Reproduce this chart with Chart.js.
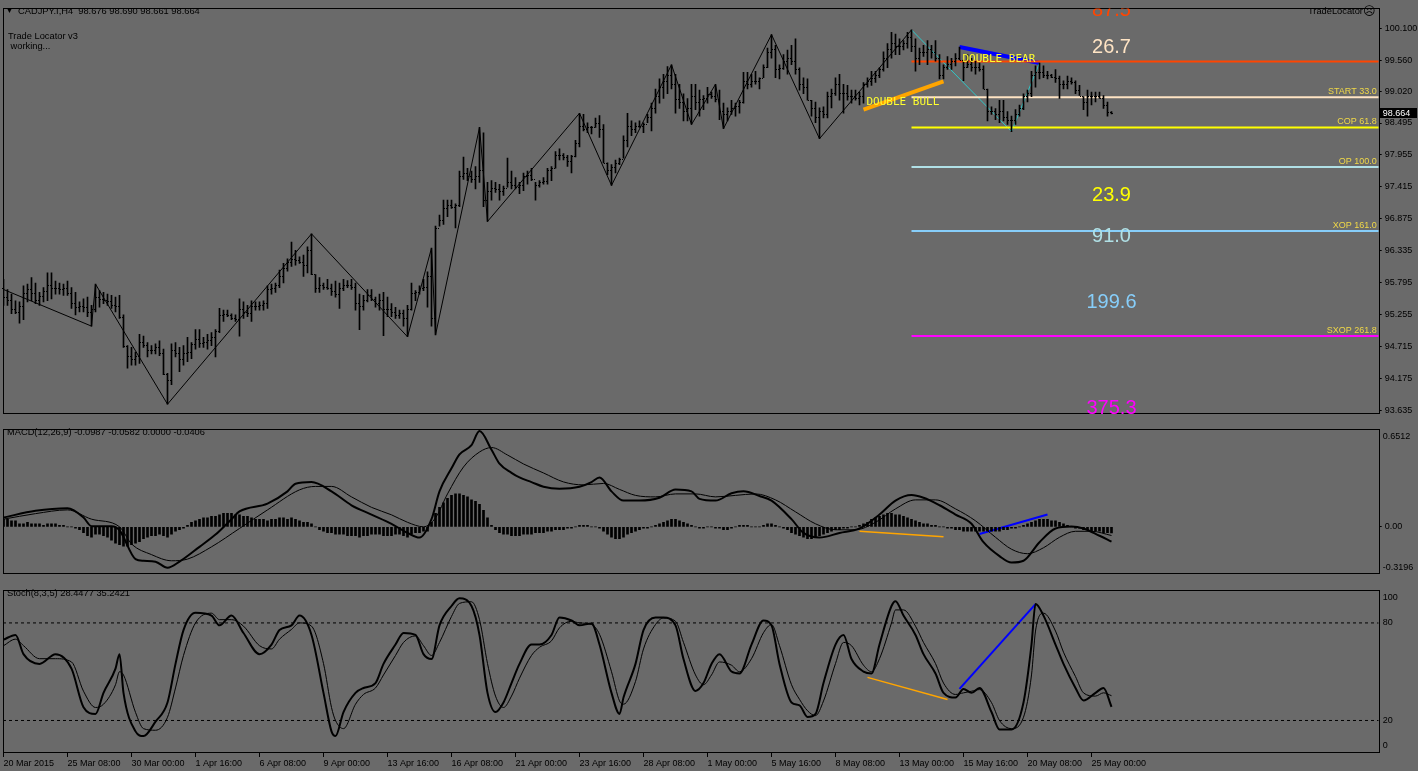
<!DOCTYPE html>
<html>
<head>
<meta charset="utf-8">
<script src="https://cdn.jsdelivr.net/npm/chart.js@4.4.0/dist/chart.umd.min.js"></script>
<style>
    body { margin: 0; background: #6a6a6a; width: 1418px; height: 771px; overflow: hidden; position: relative; font-family: "Liberation Sans", Arial, sans-serif; }
    canvas { position: absolute; left: 0; }
    .txt { position: absolute; font-size: 9.3px; line-height: 11px; color: #000; white-space: pre; }
    .face { font-family: "DejaVu Sans", sans-serif; font-size: 12px; vertical-align: -1px; }
</style>
</head>
<body>
<canvas id="priceChart" width="1418" height="423" style="top:0"></canvas>
<canvas id="macdChart" width="1418" height="162" style="top:421px"></canvas>
<canvas id="stochChart" width="1418" height="190" style="top:581px"></canvas>

<div class="txt" style="left:6px;top:5px;font-size:7px">▼</div>
<div class="txt" style="left:18px;top:5.5px">CADJPY.I,H4  98.676 98.690 98.661 98.664</div>
<div class="txt" style="left:8px;top:30.5px">Trade Locator v3</div>
<div class="txt" style="left:8px;top:40.5px"> working...</div>
<div class="txt" style="left:1308px;top:6px">TradeLocator<span class="face">☹</span></div>
<div class="txt" style="left:7px;top:427px">MACD(12,26,9) -0.0987 -0.0582 0.0000 -0.0406</div>
<div class="txt" style="left:7px;top:588px">Stoch(8,3,5) 28.4477 35.2421</div>

<script>
// --- Datos ---
const timeLabels = ['20 Mar 2015', '25 Mar 08:00', '30 Mar 00:00', '1 Apr 16:00', '6 Apr 08:00', '9 Apr 00:00',
    '13 Apr 16:00', '16 Apr 08:00', '21 Apr 00:00', '23 Apr 16:00', '28 Apr 08:00', '1 May 00:00',
    '5 May 16:00', '8 May 08:00', '13 May 00:00', '15 May 16:00', '20 May 08:00', '25 May 00:00'];
const barsPerLabel = 16;
const priceTicks = [93.635, 94.175, 94.715, 95.255, 95.795, 96.335, 96.875, 97.415, 97.955, 98.495, 99.020, 99.560, 100.100];

const firstOpen = 95.70;
const barHigh = [
    95.85,95.68,95.60,95.49,95.47,95.74,95.77,95.88,95.79,95.63, 95.71,95.96,95.96,95.82,95.79,95.77,95.82,95.71,95.63,95.47,
    95.52,95.55,95.41,95.77,95.66,95.63,95.60,95.58,95.55,95.58, 95.25,94.73,94.70,94.62,94.92,94.89,94.78,94.73,94.76,94.81,
    94.67,94.26,94.76,94.78,94.70,94.73,94.87,94.78,95.00,95.00, 94.87,94.92,94.95,95.00,95.36,95.33,95.33,95.27,95.25,95.52,
    95.47,95.41,95.49,95.47,95.47,95.49,95.74,95.77,95.79,96.01, 96.12,96.20,96.48,96.34,96.23,96.26,96.40,96.62,95.93,95.88,
    95.79,95.85,95.77,95.82,95.79,95.85,95.83,95.85,95.79,95.60, 95.58,95.68,95.68,95.55,95.60,95.63,95.55,95.44,95.38,95.33,
    95.33,95.41,95.79,95.66,95.74,95.85,95.98,96.38,96.75,96.94, 97.19,97.19,97.19,97.13,97.68,97.92,97.73,97.68,97.76,98.42,
    98.33,97.49,97.52,97.49,97.46,97.43,97.90,97.68,97.57,97.49, 97.65,97.68,97.73,97.49,97.52,97.57,97.73,97.76,98.01,98.06,
    97.98,97.95,97.95,98.20,98.66,98.64,98.50,98.44,98.58,98.62, 98.47,97.82,97.79,97.87,97.90,98.28,98.66,98.53,98.50,98.53,
    98.50,98.64,98.83,99.07,99.24,99.32,99.45,99.48,99.32,99.15, 98.99,98.91,99.15,99.15,99.05,98.96,99.10,99.02,99.15,99.05,
    98.83,98.75,98.88,98.83,98.88,99.35,99.35,99.32,99.37,99.26, 99.48,99.76,99.99,99.81,99.48,99.65,99.73,99.81,99.92,99.43,
    99.26,99.24,98.88,98.85,98.75,98.77,99.02,99.07,99.26,99.32, 99.15,99.13,99.05,99.05,99.02,99.18,99.26,99.37,99.37,99.43,
    99.70,99.84,100.03,100.00,99.92,99.89,100.03,100.07,99.92,99.76, 99.81,99.89,99.81,99.89,99.65,99.48,99.62,99.59,99.67,99.78,
    99.56,99.65,99.59,99.54,99.51,99.46,99.07,98.77,98.74,98.88, 98.88,98.69,98.61,98.72,98.80,98.99,99.05,99.37,99.46,99.51,
    99.46,99.37,99.32,99.40,99.29,99.21,99.29,99.26,99.21,99.13, 98.94,99.05,99.02,99.02,99.02,98.96,98.85,98.69
];
const barLow = [
    95.41,95.41,95.27,95.27,95.11,95.17,95.47,95.49,95.44,95.41, 95.47,95.49,95.52,95.60,95.60,95.58,95.58,95.36,95.25,95.30,
    95.30,95.22,95.06,95.30,95.38,95.44,95.41,95.36,95.30,95.19, 94.70,94.35,94.40,94.40,94.43,94.70,94.54,94.59,94.59,94.56,
    94.24,93.74,94.07,94.54,94.29,94.40,94.46,94.51,94.67,94.70, 94.70,94.67,94.73,94.54,94.95,95.14,95.22,95.17,95.14,94.89,
    95.19,95.22,95.14,95.33,95.33,95.33,95.36,95.60,95.63,95.71, 95.79,95.99,96.07,96.09,96.12,95.90,95.96,95.93,95.63,95.63,
    95.68,95.68,95.58,95.55,95.36,95.66,95.71,95.68,95.33,95.00, 95.33,95.47,95.49,95.38,95.33,94.90,95.22,95.22,95.19,95.19,
    95.06,94.88,95.33,95.49,95.60,95.66,95.38,95.06,94.91,96.75, 96.78,96.91,97.05,96.72,97.08,97.54,97.52,97.49,97.38,97.49,
    97.08,96.83,97.19,97.32,97.19,97.27,97.41,97.38,97.38,97.30, 97.35,97.46,97.52,97.19,97.41,97.46,97.46,97.52,97.73,97.87,
    97.87,97.76,97.65,97.92,98.09,98.36,98.33,98.31,98.42,98.25, 97.82,97.62,97.44,97.65,97.79,97.90,98.09,98.28,98.33,98.42,
    98.33,98.50,98.36,98.66,98.83,98.91,98.99,99.07,98.66,98.74, 98.53,98.53,98.47,98.72,98.61,98.72,98.83,98.91,98.85,98.55,
    98.40,98.53,98.64,98.61,98.66,98.83,99.07,99.10,99.15,99.07, 99.26,99.43,99.59,99.26,99.24,99.40,99.32,99.48,99.32,99.05,
    98.99,98.88,98.61,98.50,98.23,98.58,98.58,98.75,98.96,98.88, 98.66,98.88,98.83,98.88,98.80,98.83,99.10,99.13,99.18,99.26,
    99.37,99.43,99.59,99.65,99.65,99.73,99.76,99.70,99.37,99.48, 99.62,99.48,99.59,99.54,99.24,99.24,99.40,99.40,99.46,99.56,
    99.21,99.43,99.37,99.32,99.37,99.07,98.53,98.64,98.55,98.50, 98.53,98.47,98.35,98.47,98.61,98.72,98.85,98.94,99.10,99.24,
    99.26,99.24,99.26,99.18,98.91,99.07,99.07,99.15,98.99,98.96, 98.72,98.61,98.80,98.85,98.91,98.74,98.61,98.65
];
const barClose = [
    95.55,95.50,95.35,95.30,95.40,95.62,95.68,95.62,95.50,95.57, 95.65,95.75,95.70,95.70,95.68,95.70,95.62,95.45,95.38,95.40,
    95.38,95.30,95.35,95.55,95.52,95.50,95.48,95.42,95.40,95.22, 94.72,94.55,94.50,94.55,94.80,94.74,94.66,94.66,94.70,94.60,
    94.25,94.15,94.65,94.60,94.50,94.60,94.62,94.75,94.85,94.78, 94.80,94.82,94.88,94.98,95.25,95.27,95.24,95.20,95.18,95.35,
    95.30,95.28,95.40,95.40,95.42,95.45,95.68,95.70,95.75,95.90, 96.05,96.15,96.20,96.18,96.15,96.10,96.35,95.95,95.70,95.75,
    95.72,95.70,95.65,95.60,95.70,95.75,95.76,95.72,95.45,95.40, 95.50,95.58,95.52,95.45,95.50,95.35,95.35,95.30,95.25,95.28,
    95.20,95.35,95.62,95.64,95.70,95.72,95.90,95.20,96.72,96.85, 97.05,97.10,97.08,97.10,97.60,97.65,97.60,97.55,97.60,97.70,
    97.20,97.35,97.40,97.38,97.35,97.40,97.50,97.45,97.42,97.45, 97.60,97.62,97.55,97.45,97.50,97.52,97.70,97.74,97.95,97.95,
    97.92,97.85,97.93,98.15,98.45,98.40,98.42,98.42,98.50,98.40, 97.82,97.70,97.75,97.82,97.88,98.20,98.45,98.40,98.45,98.45,
    98.48,98.60,98.75,98.95,99.10,99.20,99.30,99.15,98.90,98.85, 98.70,98.75,98.95,98.85,98.90,98.92,98.98,98.95,98.90,98.70,
    98.65,98.70,98.75,98.78,98.85,99.20,99.15,99.20,99.20,99.25, 99.45,99.70,99.75,99.40,99.42,99.55,99.60,99.55,99.40,99.15,
    99.10,98.88,98.75,98.60,98.70,98.65,98.95,99.00,99.15,99.00, 99.00,98.95,98.95,98.92,98.95,99.15,99.20,99.25,99.30,99.40,
    99.60,99.75,99.85,99.80,99.80,99.85,99.95,99.80,99.60,99.70, 99.70,99.75,99.70,99.60,99.30,99.45,99.50,99.55,99.60,99.56,
    99.45,99.50,99.45,99.45,99.40,99.07,98.70,98.70,98.65,98.70, 98.60,98.55,98.55,98.65,98.75,98.95,99.00,99.30,99.35,99.35,
    99.30,99.30,99.28,99.25,99.15,99.15,99.20,99.18,99.05,98.96, 98.85,98.95,98.95,98.95,98.92,98.80,98.68,98.664
];

// ZigZag y patrones
const zigzagIdx = [0, 22, 23, 41, 77, 101, 107, 108, 119, 121, 144, 152, 167, 172, 178, 180, 192, 204, 227];
const zigzagPrice = [95.68, 95.06, 95.77, 93.74, 96.62, 94.88, 96.38, 94.91, 98.42, 96.83, 98.66, 97.44, 99.48, 98.47, 99.15, 98.40, 99.99, 98.23, 100.07];
const waveIdx = [227, 252, 259];
const wavePrice = [100.07, 98.35, 99.51];
const bullIdx = [215, 235];
const bullPrice = [98.72, 99.20];
const bearIdx = [239, 259];
const bearPrice = [99.78, 99.51];

// Niveles Fibonacci
const fibStart = 227;
const fibLevels = [99.536, 98.930, 98.421, 97.749, 96.667, 94.892];
const fibNames = ['', 'START 33.0', 'COP 61.8', 'OP 100.0', 'XOP 161.0', 'SXOP 261.8'];
const fibColors = ['#ff4500', '#ffe4c4', '#ffff00', '#b0e0e6', '#87cefa', '#ff00ff'];
const targetTexts = ['87.5', '26.7', '23.9', '91.0', '199.6', '375.3'];
const targetPrices = [100.39, 99.78, 97.27, 96.57, 95.46, 93.66];
const targetColors = ['#ff4500', '#ffe4c4', '#ffff00', '#b0e0e6', '#87cefa', '#ff00ff'];

// MACD
const macdMax = 0.6512, macdMin = -0.3196;
const macdHist = [
    0.05,0.05,0.04,0.04, 0.02,0.02,0.03,0.02,0.02,0.02,0.01,0.02,0.02,0.02,0.01,0.01,
    0.00,0.00,-0.01,-0.02, -0.04,-0.06,-0.07,-0.05,-0.05,-0.06,-0.07,
    -0.09,-0.11,-0.12,-0.13,-0.13,-0.12,-0.11,-0.10, -0.08,-0.07,-0.06,-0.06,-0.05,-0.06,-0.07,-0.05,
    -0.03,-0.02,-0.01, 0.01,0.03,0.04,0.05,0.06,0.06,0.07,0.07,0.08,0.09,0.09,0.09,
    0.08,0.08,0.07,0.07, 0.06,0.05,0.05,0.05,0.04,0.05,0.05,0.06,0.06,0.05,0.06,0.05,0.04,
    0.03,0.03,0.02,0.00, -0.02,-0.03,-0.04,-0.04,-0.05,
    -0.05,-0.05,-0.06,-0.06,-0.06,-0.07,-0.06,-0.06,-0.05,-0.05,-0.05,-0.06,-0.06,-0.06,-0.05,-0.05,-0.06,-0.07,
    -0.05,-0.04,-0.04,-0.03,-0.03, 0.03,0.09, 0.13,0.16,0.19,0.21,0.22,0.22,0.21,0.20,0.18,0.17,
    0.15,0.11,0.06, 0.01,-0.02,-0.04,-0.05,-0.05,-0.06,-0.06,
    -0.06,-0.05,-0.05,-0.05,-0.04,-0.04,-0.04,-0.03,-0.03,-0.02,-0.02,
    -0.02,-0.01,-0.01,0.00,0.01,0.01,0.01,0.00,0.00,-0.01, -0.03,-0.05,-0.07,-0.08,-0.08,-0.07,-0.05,
    -0.04,-0.03,-0.02,-0.01,-0.01,0.00,0.01, 0.02,0.03,0.04,0.05,0.05,0.04,0.03,0.02,
    0.01,0.00,-0.01,-0.01,0.00,0.00,-0.01, -0.01,-0.02,-0.02,-0.01,0.00,0.01,0.01,0.01,0.00,0.00,0.00,
    0.01,0.02,0.02,0.01,0.00, -0.01,-0.02,-0.04,-0.05,-0.06, -0.07,-0.08,-0.08,-0.07,-0.06,-0.05,-0.04,
    -0.03,-0.02,-0.02,-0.01,-0.01,0.00,0.00,0.01, 0.02,0.03,0.05,0.06,0.07, 0.08,0.09,0.09,0.08,0.08,
    0.07,0.06,0.05,0.04,0.03, 0.02,0.02,0.01,0.01,0.00,0.00,-0.01,-0.01,-0.02,
    -0.02,-0.03,-0.03,-0.03,-0.03,-0.03,-0.03,-0.03,-0.03,-0.03, -0.03,-0.02,-0.02,-0.01,-0.01,
    0.00,0.01,0.02,0.03,0.04,0.05,0.05,0.05, 0.04,0.04,0.03,0.02,0.01,
    0.00,-0.01,-0.01,-0.02,-0.02,-0.03,-0.03,-0.03,-0.04,-0.04,-0.0406
];
const macdMainIdx = [0, 8, 16, 20, 22, 27, 29, 33, 35, 38, 41, 44, 49, 53, 57, 59, 66, 71, 73, 77, 82, 87, 92, 97, 101, 104,
    107, 109, 112, 114, 117, 119, 122, 124, 127, 129, 132, 135, 139, 144, 147, 149, 152, 155, 159, 164, 168, 172, 174, 178,
    182, 185, 189, 192, 197, 200, 204, 209, 214, 219, 223, 227, 230, 234, 238, 242, 245, 249, 252, 255, 259, 263, 267, 270, 274, 277];
const macdMain = [0.062, 0.107, 0.124, 0.062, 0.004, 0.004, -0.023, -0.216, -0.227, -0.233, -0.274, -0.233, -0.134, -0.052, 0.051, 0.103,
    0.155, 0.237, 0.288, 0.299, 0.237, 0.144, 0.082, 0.020, -0.041, -0.072, 0.051, 0.237, 0.391, 0.484, 0.546, 0.640, 0.515,
    0.422, 0.361, 0.330, 0.299, 0.268, 0.255, 0.268, 0.299, 0.330, 0.237, 0.175, 0.175, 0.194, 0.249, 0.237, 0.187, 0.175,
    0.224, 0.237, 0.206, 0.175, 0.051, -0.041, -0.072, -0.041, -0.011, 0.082, 0.175, 0.212, 0.194, 0.144, 0.082, 0.020,
    -0.103, -0.196, -0.239, -0.227, -0.103, -0.011, 0.002, -0.011, -0.060, -0.0987];
const macdSigIdx = [0, 8, 16, 22, 29, 32, 37, 42, 46, 52, 59, 66, 74, 78, 82, 87, 92, 97, 101, 105, 108, 111, 115, 119, 122,
    126, 130, 135, 140, 145, 150, 154, 158, 163, 168, 173, 178, 183, 188, 193, 198, 203, 208, 213, 218, 223, 228, 233, 238,
    243, 248, 252, 256, 260, 264, 268, 272, 277];
const macdSig = [0.051, 0.088, 0.113, 0.051, 0.0, -0.114, -0.186, -0.227, -0.216, -0.134, -0.011, 0.113, 0.247, 0.27, 0.27,
    0.20, 0.13, 0.08, 0.03, 0.0, 0.06, 0.22, 0.40, 0.50, 0.53, 0.48, 0.42, 0.36, 0.30, 0.28, 0.29, 0.25, 0.21, 0.20, 0.22,
    0.22, 0.20, 0.21, 0.22, 0.18, 0.10, 0.02, -0.02, -0.02, 0.03, 0.12, 0.18, 0.18, 0.12, 0.04, -0.07, -0.15, -0.18, -0.14,
    -0.07, -0.03, -0.03, -0.0582];
const macdBullIdx = [214, 235];
const macdBullVal = [-0.030, -0.066];
const macdBearIdx = [244, 261];
const macdBearVal = [-0.048, 0.082];

// Estocástico
const stochIdx = [0, 3, 5, 9, 13, 17, 20, 23, 25, 28, 29, 30, 33, 35, 38, 41, 43, 45, 48, 52, 54, 57, 60, 64, 67, 69, 72, 74,
    77, 80, 82, 83, 85, 88, 90, 93, 95, 98, 100, 103, 105, 107, 109, 112, 114, 117, 119, 121, 123, 125, 127, 129, 132, 134,
    137, 139, 142, 144, 147, 149, 152, 154, 155, 158, 160, 163, 165, 168, 170, 173, 175, 177, 179, 182, 184, 187, 190, 192,
    194, 197, 199, 201, 203, 205, 208, 210, 212, 215, 217, 219, 222, 223, 225, 228, 230, 233, 235, 238, 240, 242, 244, 247,
    249, 252, 255, 257, 258, 260, 263, 265, 268, 270, 273, 275, 277];
const stochMain = [69.7, 72.6, 60.8, 54.8, 60.8, 51.9, 28.2, 24.0, 37.0, 51.9, 60.8, 37.0, 13.3, 10.4, 19.3, 31.1, 54.8, 75.6,
    86.2, 84.5, 78.5, 84.5, 73.8, 60.8, 66.7, 75.6, 78.5, 84.5, 72.6, 37.0, 13.3, 10.4, 25.2, 37.0, 40.0, 43.0, 54.8, 66.7,
    73.8, 72.6, 60.8, 57.8, 78.5, 90.4, 95.1, 90.4, 72.6, 37.0, 25.2, 31.1, 43.0, 54.8, 66.7, 66.7, 72.6, 83.3, 81.5, 78.5,
    79.7, 66.7, 37.0, 24.0, 34.1, 54.8, 75.6, 83.3, 83.3, 78.5, 57.8, 38.2, 43.0, 54.8, 60.8, 50.1, 48.9, 66.7, 81.5, 78.5,
    54.8, 31.1, 29.3, 22.2, 24.0, 43.0, 66.7, 72.6, 57.8, 50.1, 48.9, 66.7, 90.4, 93.4, 84.5, 72.6, 60.8, 48.9, 37.0, 34.1,
    39.4, 37.0, 40.0, 25.2, 14.5, 14.5, 31.1, 66.7, 91.6, 84.5, 66.7, 54.8, 40.0, 32.3, 37.0, 40.0, 28.4];
const stochSig = [66, 70, 66, 58, 58, 56, 38, 28, 30, 42, 50, 48, 25, 15, 14, 22, 40, 60, 80, 86, 82, 82, 78, 66, 64, 70, 76,
    80, 78, 55, 28, 20, 15, 30, 36, 40, 48, 60, 68, 72, 66, 60, 68, 84, 92, 93, 82, 55, 35, 28, 35, 46, 60, 65, 69, 77, 81,
    80, 79, 73, 50, 32, 30, 44, 64, 79, 83, 81, 68, 48, 42, 48, 56, 54, 50, 58, 74, 79, 66, 42, 33, 26, 23, 32, 55, 68, 66,
    54, 50, 58, 80, 88, 88, 78, 68, 55, 43, 36, 37, 38, 39, 31, 20, 15, 22, 48, 75, 86, 75, 62, 47, 37, 35, 37, 35.24];
const stochLevels = [20, 80];
const stochBullIdx = [216, 236];
const stochBullVal = [46.5, 32.9];
const stochBearIdx = [239, 258];
const stochBearVal = [39.4, 91.6];

// --- Geometría común ---
const xMin = -0.125;
const xMax = 343.8;
const axisWidth = 39.3;
const lastIdx = barClose.length - 1;

Chart.defaults.font.family = '"Liberation Sans", Arial, sans-serif';
Chart.defaults.font.size = 9;
Chart.defaults.color = '#000';

const pts = (xs, ys) => xs.map((x, i) => ({ x: x, y: ys[i] }));
const lineDs = (data, color, width, extra) => Object.assign({
    type: 'line', data: data, borderColor: color, borderWidth: width,
    pointRadius: 0, fill: false, tension: 0
}, extra || {});

// --- Plugins ---
const framePlugin = {
    id: 'frame',
    beforeDraw(chart) {
        const { ctx, chartArea: a } = chart;
        ctx.save();
        ctx.strokeStyle = '#000';
        ctx.lineWidth = 1;
        ctx.strokeRect(Math.floor(a.left) + 0.5, Math.floor(a.top) + 0.5,
            Math.round(a.right - a.left), Math.round(a.bottom - a.top) - 1);
        ctx.restore();
    }
};

const ohlcPlugin = {
    id: 'ohlcTicks',
    afterDatasetsDraw(chart, args, opts) {
        if (!opts.close) return;
        const { ctx, scales: { x, y } } = chart;
        ctx.save();
        ctx.fillStyle = '#000';
        opts.close.forEach((c, i) => {
            const o = i === 0 ? opts.firstOpen : opts.close[i - 1];
            const px = Math.round(x.getPixelForValue(i) - 0.5);
            ctx.fillRect(px - 1, Math.round(y.getPixelForValue(o)), 1, 1);
            ctx.fillRect(px + 1, Math.round(y.getPixelForValue(c)), 1, 1);
        });
        ctx.restore();
    }
};

// textos anclados a valores de datos, recortados a la ventana como en MT4
const textPlugin = {
    id: 'texts',
    afterDatasetsDraw(chart, args, opts) {
        const { ctx, chartArea: a, scales: { x, y } } = chart;
        ctx.save();
        ctx.beginPath();
        ctx.rect(a.left, a.top, a.right - a.left, a.bottom - a.top);
        ctx.clip();
        (opts.items || []).forEach(t => {
            ctx.font = t.font;
            ctx.fillStyle = t.color;
            ctx.textAlign = t.align || 'center';
            ctx.textBaseline = t.baseline || 'middle';
            ctx.fillText(t.text, x.getPixelForValue(t.x) + (t.dx || 0), y.getPixelForValue(t.y) + (t.dy || 0));
        });
        ctx.restore();
        if (opts.priceBox !== undefined) {
            const py = y.getPixelForValue(opts.priceBox);
            ctx.save();
            ctx.fillStyle = '#000';
            ctx.fillRect(y.left + 1, Math.round(py) - 5, chart.width - y.left - 2, 10);
            ctx.fillStyle = '#fff';
            ctx.font = '9px "Liberation Sans", Arial, sans-serif';
            ctx.textBaseline = 'middle';
            ctx.fillText(opts.priceBox.toFixed(3), y.left + 4, Math.round(py) + 0.5);
            ctx.restore();
        }
        if (opts.edgeTop) {
            ctx.save();
            ctx.fillStyle = '#000';
            ctx.font = '9px "Liberation Sans", Arial, sans-serif';
            ctx.textBaseline = 'middle';
            ctx.fillText(opts.edgeTop, y.left + 4, a.top + 7);
            ctx.fillText(opts.edgeBottom, y.left + 4, a.bottom - 7);
            ctx.restore();
        }
    }
};

const xHidden = { type: 'linear', min: xMin, max: xMax, offset: false, display: false };
const yRight = (min, max, ticks, fmt) => ({
    type: 'linear', position: 'right', min: min, max: max, beginAtZero: false,
    afterFit: (s) => { s.width = axisWidth; },
    afterBuildTicks: (s) => { s.ticks = ticks.map(v => ({ value: v })); },
    border: { display: false },
    grid: { drawOnChartArea: false, tickLength: 3, color: '#000' },
    ticks: { padding: 3, autoSkip: false, callback: fmt }
});

// --- Gráfica de precio ---
const fibDatasets = fibLevels.map((lv, k) => lineDs(pts([fibStart, xMax], [lv, lv]), fibColors[k], 2));
const priceTexts = [];
fibLevels.forEach((lv, k) => {
    if (fibNames[k]) priceTexts.push({ text: fibNames[k], x: xMax, y: lv, dx: -2, dy: -1, align: 'right', baseline: 'bottom',
        color: '#f0d848', font: '9px "Liberation Sans", Arial, sans-serif' });
});
targetTexts.forEach((t, k) => priceTexts.push({ text: t, x: lastIdx, y: targetPrices[k], color: targetColors[k],
    font: '20px "Liberation Sans", Arial, sans-serif' }));
priceTexts.push({ text: 'DOUBLE BULL', x: bullIdx[0], y: bullPrice[0], dx: 3, dy: -8, align: 'left',
    color: '#ffff30', font: '11px "DejaVu Sans Mono", monospace' });
priceTexts.push({ text: 'DOUBLE BEAR', x: bearIdx[0], y: bearPrice[0], dx: 3, dy: 12, align: 'left',
    color: '#ffff30', font: '11px "DejaVu Sans Mono", monospace' });

new Chart(document.getElementById('priceChart'), {
    type: 'bar',
    data: {
        datasets: [
            {
                type: 'bar',
                data: barHigh.map((h, i) => ({ x: i, y: [barLow[i], h] })),
                backgroundColor: '#000', borderWidth: 0, barThickness: 1, grouped: false
            },
            lineDs(pts(zigzagIdx, zigzagPrice), '#000', 1),
            ...fibDatasets,
            lineDs(pts(waveIdx, wavePrice), '#2ec8c8', 1),
            lineDs(pts(bullIdx, bullPrice), '#ffa500', 4),
            lineDs(pts(bearIdx, bearPrice), '#0000ff', 4)
        ]
    },
    options: {
        responsive: false, animation: false, events: [],
        layout: { padding: { left: 3, top: 2, bottom: 2, right: 0 } },
        plugins: {
            legend: { display: false }, tooltip: { enabled: false },
            ohlcTicks: { close: barClose, firstOpen: firstOpen },
            texts: { items: priceTexts, priceBox: barClose[lastIdx] }
        },
        scales: {
            x: xHidden,
            y: yRight(93.564, 100.433, priceTicks, v => v.toFixed(3))
        }
    },
    plugins: [framePlugin, ohlcPlugin, textPlugin]
});

// --- MACD ---
new Chart(document.getElementById('macdChart'), {
    type: 'bar',
    data: {
        datasets: [
            {
                type: 'bar',
                data: macdHist.map((v, i) => ({ x: i, y: v })),
                backgroundColor: '#000', borderWidth: 0, barThickness: 2, grouped: false
            },
            lineDs(pts(macdMainIdx, macdMain), '#000', 2, { cubicInterpolationMode: 'monotone' }),
            lineDs(pts(macdSigIdx, macdSig), '#000', 1, { cubicInterpolationMode: 'monotone' }),
            lineDs(pts(macdBullIdx, macdBullVal), '#ffa500', 1.5),
            lineDs(pts(macdBearIdx, macdBearVal), '#0000ff', 2)
        ]
    },
    options: {
        responsive: false, animation: false, events: [],
        layout: { padding: { left: 3, top: 2, bottom: 1, right: 0 } },
        plugins: {
            legend: { display: false }, tooltip: { enabled: false },
            texts: { items: [], edgeTop: macdMax.toFixed(4), edgeBottom: macdMin.toFixed(4) }
        },
        scales: {
            x: xHidden,
            y: yRight(macdMin, macdMax, [0], v => v.toFixed(2))
        }
    },
    plugins: [framePlugin, textPlugin]
});

// --- Estocástico ---
const stochYAxis = yRight(0, 100, stochLevels, v => String(v));
stochYAxis.grid = { drawOnChartArea: false, drawTicks: false };
stochYAxis.ticks.padding = 4;

new Chart(document.getElementById('stochChart'), {
    type: 'line',
    data: {
        datasets: [
            ...stochLevels.map(lv => lineDs(pts([xMin, xMax], [lv, lv]), '#000', 1, { borderDash: [3, 3] })),
            lineDs(pts(stochIdx, stochMain), '#000', 2, { cubicInterpolationMode: 'monotone' }),
            lineDs(pts(stochIdx, stochSig), '#000', 1, { cubicInterpolationMode: 'monotone' }),
            lineDs(pts(stochBullIdx, stochBullVal), '#ffa500', 1.5),
            lineDs(pts(stochBearIdx, stochBearVal), '#0000ff', 2)
        ]
    },
    options: {
        responsive: false, animation: false, events: [],
        layout: { padding: { left: 3, top: 3, bottom: 0, right: 0 } },
        plugins: {
            legend: { display: false }, tooltip: { enabled: false },
            texts: { items: [], edgeTop: '100', edgeBottom: '0' }
        },
        scales: {
            x: {
                type: 'linear', min: xMin, max: xMax, offset: false,
                afterFit: (s) => { s.height = 18; },
                afterBuildTicks: (s) => { s.ticks = timeLabels.map((_, k) => ({ value: k * barsPerLabel })); },
                border: { display: false },
                grid: { drawOnChartArea: false, tickLength: 4, color: '#000' },
                ticks: { align: 'start', padding: 1, autoSkip: false, maxRotation: 0,
                    callback: (v, idx) => timeLabels[idx] }
            },
            y: stochYAxis
        }
    },
    plugins: [framePlugin, textPlugin]
});
</script>
</body>
</html>
